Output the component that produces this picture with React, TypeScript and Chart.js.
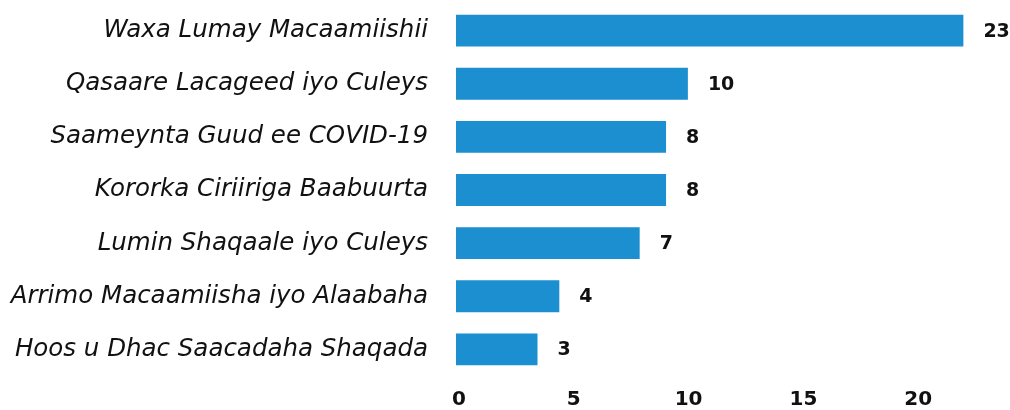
import React, { useEffect, useRef } from "react";
import { Chart, registerables } from "chart.js";

Chart.register(...registerables);

const categories = [
  "Waxa Lumay Macaamiishii",
  "Qasaare Lacageed iyo Culeys",
  "Saameynta Guud ee COVID-19",
  "Kororka Ciriiriga Baabuurta",
  "Lumin Shaqaale iyo Culeys",
  "Arrimo Macaamiisha iyo Alaabaha",
  "Hoos u Dhac Saacadaha Shaqada",
];
const barValues = [22.1, 10.1, 9.15, 9.15, 8.0, 4.5, 3.55];
const valueLabels = ["23", "10", "8", "8", "7", "4", "3"];
const xTicks = [0, 5, 10, 15, 20];

const BAR_COLOR = "#1b8fcf";
const TEXT_COLOR = "#111111";
const FONT = "'DejaVu Sans'";

export default function App() {
  const ref = useRef<HTMLCanvasElement>(null);
  useEffect(() => {
    if (!ref.current) return;
    const valuePlugin = {
      id: "valueLabels",
      afterDatasetsDraw(chart: any) {
        const ctx = chart.ctx;
        const meta = chart.getDatasetMeta(0);
        ctx.save();
        ctx.font = `bold 19px ${FONT}`;
        ctx.fillStyle = TEXT_COLOR;
        ctx.textAlign = "left";
        ctx.textBaseline = "middle";
        meta.data.forEach((bar: any, i: number) => {
          ctx.fillText(valueLabels[i], bar.x + 20, bar.y + 1);
        });
        ctx.restore();
      },
    };
    const chart = new Chart(ref.current, {
      type: "bar",
      data: {
        labels: categories,
        datasets: [
          {
            data: barValues,
            backgroundColor: BAR_COLOR,
            barPercentage: 0.6,
            categoryPercentage: 1,
          },
        ],
      },
      options: {
        indexAxis: "y",
        animation: false,
        responsive: true,
        maintainAspectRatio: false,
        layout: { padding: { top: 4, right: 3, left: 0, bottom: 0 } },
        plugins: { legend: { display: false }, tooltip: { enabled: false } },
        scales: {
          x: {
            min: 0,
            max: 24,
            grid: { display: false, drawTicks: false },
            border: { display: false },
            ticks: {
              stepSize: 5,
              padding: 12,
              labelOffset: 3,
              color: TEXT_COLOR,
              font: { family: FONT, size: 20, weight: "bold" },
            },
            afterBuildTicks(s: any) {
              s.ticks = xTicks.map((v) => ({ value: v }));
            },
            afterFit(s: any) {
              s.height = 34;
              s.paddingLeft = 0;
              s.paddingRight = 0;
            },
          },
          y: {
            grid: { display: false, drawTicks: false },
            border: { display: false },
            ticks: {
              padding: 28,
              color: TEXT_COLOR,
              font: { family: FONT, size: 24.5, style: "italic" },
            },
            afterFit(s: any) {
              s.width = 456;
              s.paddingTop = 0;
              s.paddingBottom = 0;
            },
          },
        },
      },
      plugins: [valuePlugin],
    });
    return () => chart.destroy();
  }, []);
  return (
    <div style={{ position: "absolute", left: 0, top: 0, width: 1010, height: 410 }}>
      <canvas ref={ref} />
    </div>
  );
}
